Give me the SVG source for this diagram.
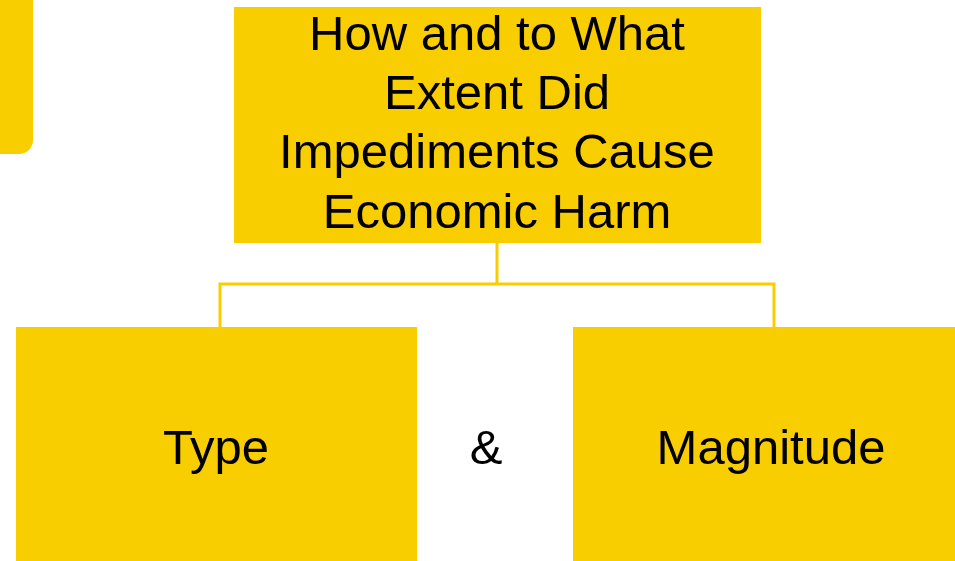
<svg xmlns="http://www.w3.org/2000/svg" width="955" height="561" viewBox="0 0 955 561">
<style>
.box{fill:#F9CE00}
.t{font-family:"Liberation Sans",Arial,sans-serif;font-size:49px;fill:#000;text-anchor:middle}
.c{fill:none;stroke:#F9CE00;stroke-width:3}
</style>
<rect width="955" height="561" fill="#fff"/>
<g id="side"><path class="box" d="M0,0 H33 V140 A14,14 0 0 1 19,154 H0 Z"/></g>
<g id="connectors">
<path class="c" d="M497,242 V284 M220,284 H774 M220,282.5 V327 M774,282.5 V327"/>
</g>
<g id="root">
<rect class="box" x="234" y="7" width="527" height="236"/>
<text class="t" x="497" y="50">How and to What</text>
<text class="t" x="497" y="109">Extent Did</text>
<text class="t" x="497" y="168">Impediments Cause</text>
<text class="t" x="497" y="228">Economic Harm</text>
</g>
<g id="type">
<rect class="box" x="16" y="327" width="401" height="234"/>
<text class="t" x="216" y="464">Type</text>
</g>
<g id="amp"><text class="t" x="486" y="464">&amp;</text></g>
<g id="magnitude">
<rect class="box" x="573" y="327" width="382" height="234"/>
<text class="t" x="771" y="464">Magnitude</text>
</g>
</svg>
